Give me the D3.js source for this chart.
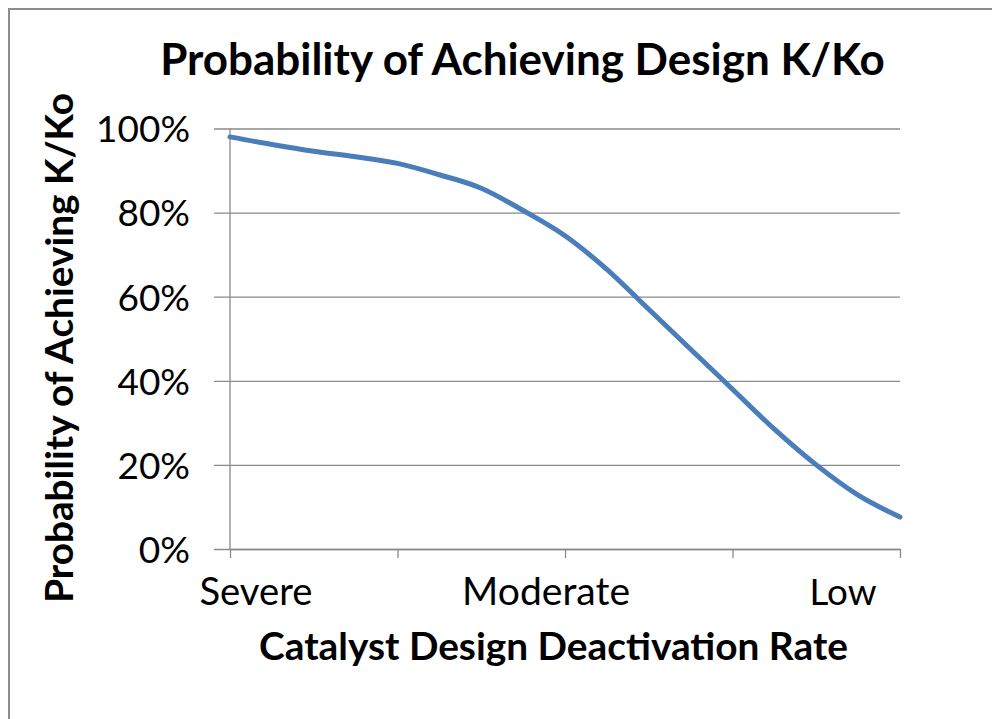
<!DOCTYPE html>
<html>
<head>
<meta charset="utf-8">
<script src="https://cdn.jsdelivr.net/npm/d3@7/dist/d3.min.js"></script>
<style>
  html, body { margin: 0; padding: 0; background: #fff; }
  svg { display: block; }
  text { font-family: Lato, "Open Sans", "DejaVu Sans", sans-serif; fill: #000; }
</style>
</head>
<body>
<svg id="chart" width="992" height="719"></svg>
<script>
// ---- data ----
const title = "Probability of Achieving Design K/Ko";
const yTitle = "Probability of Achieving K/Ko";
const xTitle = "Catalyst Design Deactivation Rate";
const categoryLabels = ["Severe", "Moderate", "Low"];
const categoryLabelPos = [0.155, 1.887, 3.66];      // positions on the rate axis (0..4)
const xTickValues = [0, 1, 2, 3, 4];
const yTickValues = [0, 0.2, 0.4, 0.6, 0.8, 1.0];
const rate = [0, 0.25, 0.5, 0.75, 1, 1.25, 1.5, 1.75, 2, 2.25, 2.5, 2.75, 3, 3.25, 3.5, 3.75, 4];
const probability = [0.980, 0.962, 0.946, 0.933, 0.917, 0.890, 0.858, 0.805, 0.745, 0.665, 0.570, 0.475, 0.380, 0.285, 0.200, 0.128, 0.076];

// ---- layout ----
const svg = d3.select("#chart");
const pLeft = 230, pRight = 900, pTop = 128.5, pBottom = 549;

const x = d3.scaleLinear().domain([0, 4]).range([pLeft, pRight]);
const y = d3.scaleLinear().domain([0, 1]).range([pBottom, pTop]);

// frame
svg.append("rect")
  .attr("x", 9).attr("y", 9).attr("width", 1100).attr("height", 1100)
  .attr("fill", "none").attr("stroke", "#8c8c8c").attr("stroke-width", 2);

function fit(sel, target) {
  const fs = parseFloat(sel.attr("font-size"));
  const w = sel.node().getComputedTextLength();
  if (w > 0) sel.attr("font-size", fs * target / w);
  return sel;
}

// gridlines + left ticks
const yAxis = d3.axisLeft(y).tickValues(yTickValues)
  .tickSize(-(pRight - pLeft)).tickSizeOuter(0)
  .tickFormat(d3.format(".0%"));
const gy = svg.append("g").attr("transform", `translate(${pLeft},0)`).call(yAxis);
gy.select(".domain").remove();
gy.selectAll(".tick line").attr("stroke", "#8a8a8a").attr("stroke-width", 1.3)
  .attr("x1", -16);
gy.selectAll(".tick text")
  .attr("x", -40).attr("dy", "0.36em")
  .attr("font-size", 38).attr("fill", "#000")
  .style("font-family", "Lato, 'Open Sans', sans-serif");
gy.selectAll(".tick text").each(function(d) {
  const s = d3.select(this);
  const t = d3.format(".0%")(d);
  const target = (t.length - 1) * 21.3 + 30;
  fit(s, target);
});

// y axis line
svg.append("line")
  .attr("x1", pLeft).attr("x2", pLeft).attr("y1", pTop).attr("y2", pBottom)
  .attr("stroke", "#8a8a8a").attr("stroke-width", 1.3);

// x axis
const xAxis = d3.axisBottom(x).tickValues(xTickValues).tickSize(9).tickSizeOuter(0).tickFormat("");
const gx = svg.append("g").attr("transform", `translate(0,${pBottom})`).call(xAxis);
gx.select(".domain").attr("stroke", "#8a8a8a").attr("stroke-width", 1.3);
gx.selectAll(".tick line").attr("stroke", "#8a8a8a").attr("stroke-width", 1.3);

// category labels
const labelWidths = [113, 168, 67];
svg.append("g").selectAll("text")
  .data(categoryLabels)
  .join("text")
  .attr("x", (d, i) => x(categoryLabelPos[i]))
  .attr("y", 605)
  .attr("text-anchor", "middle")
  .attr("font-size", 38)
  .text(d => d)
  .each(function(d, i) { fit(d3.select(this), labelWidths[i]); });

// line
const line = d3.line()
  .x((d, i) => x(rate[i]))
  .y(d => y(d))
  .curve(d3.curveMonotoneX);
svg.append("path")
  .datum(probability)
  .attr("d", line)
  .attr("fill", "none")
  .attr("stroke", "#4a7ebb")
  .attr("stroke-width", 5)
  .attr("stroke-linecap", "round");

// title
fit(svg.append("text")
  .attr("x", 522.5).attr("y", 75)
  .attr("text-anchor", "middle")
  .attr("font-weight", 700)
  .attr("font-size", 44)
  .text(title), 725);

// x title
fit(svg.append("text")
  .attr("x", 553.5).attr("y", 660)
  .attr("text-anchor", "middle")
  .attr("font-weight", 700)
  .attr("font-size", 40)
  .text(xTitle), 589);

// y title
fit(svg.append("text")
  .attr("transform", "translate(73,348) rotate(-90)")
  .attr("text-anchor", "middle")
  .attr("font-weight", 700)
  .attr("font-size", 40)
  .text(yTitle), 510);
</script>
</body>
</html>
